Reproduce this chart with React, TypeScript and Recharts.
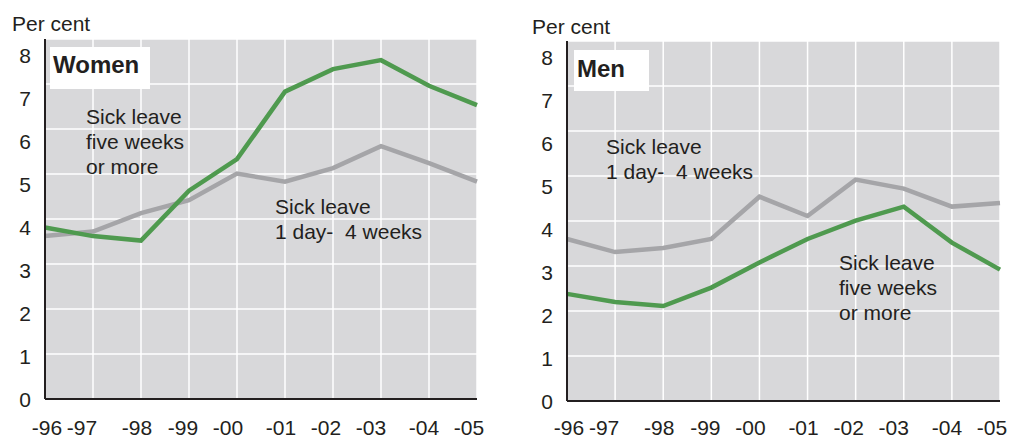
import React from "react";
import { LineChart, Line, XAxis, YAxis, CartesianGrid } from "recharts";

const years = ["-96", "-97", "-98", "-99", "-00", "-01", "-02", "-03", "-04", "-05"];
const yTicks = [0, 1, 2, 3, 4, 5, 6, 7, 8];

// Sick leave 1 day - 4 weeks (grey) and five weeks or more (green), per cent
const womenShort = [3.62, 3.72, 4.13, 4.42, 5.01, 4.83, 5.13, 5.62, 5.24, 4.83];
const womenLong = [3.81, 3.62, 3.52, 4.63, 5.33, 6.83, 7.33, 7.53, 6.96, 6.53];
const menShort = [3.6, 3.31, 3.4, 3.6, 4.54, 4.11, 4.92, 4.72, 4.32, 4.4];
const menLong = [2.38, 2.2, 2.11, 2.52, 3.08, 3.6, 4.01, 4.32, 3.52, 2.92];

// the year labels in the original sit a little off their gridlines
const labelNudge = [2, -11, -4, -6, -9, -4, -7, -10, -5, -8];

const INK = "#231f20";
const GREEN = "#4f9a4f";
const GREY = "#a5a5a8";
const BG = "#d8d8da";
const FONT = "'Liberation Sans', Arial, sans-serif";
const YEAR_LABEL_Y = 427;

function buildRows(shortVals: number[], longVals: number[]) {
  return years.map((year, i) => ({ year, short: shortVals[i], long: longVals[i] }));
}

function YTick(props: any) {
  const v = Number(props.payload.value);
  return (
    <text x={31} y={props.y + 2 * v} dy="0.36em" textAnchor="end" fill={INK} fontSize={21} fontFamily={FONT}>
      {v}
    </text>
  );
}

function XTick(props: any) {
  const i = years.indexOf(props.payload.value);
  return (
    <text
      x={props.x + (labelNudge[i] ?? 0)}
      y={YEAR_LABEL_Y}
      dy="0.36em"
      textAnchor="middle"
      fill={INK}
      fontSize={21}
      fontFamily={FONT}
    >
      {props.payload.value}
    </text>
  );
}

interface PanelProps {
  rows: { year: string; short: number; long: number }[];
  width: number;
  right: number;
  top: number;
  axisHeight: number;
}

function Panel({ rows, width, right, top, axisHeight }: PanelProps) {
  return (
    <LineChart width={width} height={439} data={rows} margin={{ top, right, bottom: 0, left: 0 }}>
      <CartesianGrid stroke="#ffffff" strokeWidth={1.5} fill={BG} fillOpacity={1} />
      <XAxis
        dataKey="year"
        scale="point"
        padding={{ left: 0, right: 0 }}
        height={axisHeight}
        interval={0}
        tickLine={false}
        axisLine={{ stroke: INK, strokeWidth: 2 }}
        tick={<XTick />}
      />
      <YAxis
        domain={[0, 8]}
        ticks={yTicks}
        width={45}
        interval={0}
        tickLine={false}
        axisLine={{ stroke: INK, strokeWidth: 2 }}
        tick={<YTick />}
      />
      <Line dataKey="short" stroke={GREY} strokeWidth={4.5} dot={false} isAnimationActive={false} />
      <Line dataKey="long" stroke={GREEN} strokeWidth={4.5} dot={false} isAnimationActive={false} />
    </LineChart>
  );
}

const textStyle: React.CSSProperties = {
  position: "absolute",
  fontFamily: FONT,
  fontSize: 21,
  lineHeight: "25px",
  color: INK,
  whiteSpace: "nowrap",
};

export default function App() {
  return (
    <div
      style={{
        position: "absolute",
        left: 0,
        top: 0,
        width: 1009,
        height: 439,
        overflow: "hidden",
        background: "#fff",
      }}
    >
      <div style={{ position: "absolute", left: 0, top: 0 }}>
        <Panel rows={buildRows(womenShort, womenLong)} width={505} right={28} top={39} axisHeight={40} />
      </div>
      <div style={{ position: "absolute", left: 522, top: 0 }}>
        <Panel rows={buildRows(menShort, menLong)} width={487} right={9} top={41} axisHeight={38} />
      </div>

      <div style={{ ...textStyle, left: 12, top: 11 }}>Per cent</div>
      <div style={{ ...textStyle, left: 532, top: 14 }}>Per cent</div>

      <div style={{ position: "absolute", left: 50, top: 47, width: 100, height: 42, background: "#fff" }} />
      <div style={{ ...textStyle, left: 53, top: 52, fontSize: 24, fontWeight: "bold" }}>Women</div>
      <div style={{ position: "absolute", left: 574, top: 50, width: 75, height: 41, background: "#fff" }} />
      <div style={{ ...textStyle, left: 577, top: 56, fontSize: 24, fontWeight: "bold" }}>Men</div>

      <div style={{ ...textStyle, left: 86, top: 104 }}>
        Sick leave<br />five weeks<br />or more
      </div>
      <div style={{ ...textStyle, left: 275, top: 194 }}>
        Sick leave<br />1 day-&nbsp; 4 weeks
      </div>
      <div style={{ ...textStyle, left: 606, top: 134 }}>
        Sick leave<br />1 day-&nbsp; 4 weeks
      </div>
      <div style={{ ...textStyle, left: 839, top: 250 }}>
        Sick leave<br />five weeks<br />or more
      </div>
    </div>
  );
}
